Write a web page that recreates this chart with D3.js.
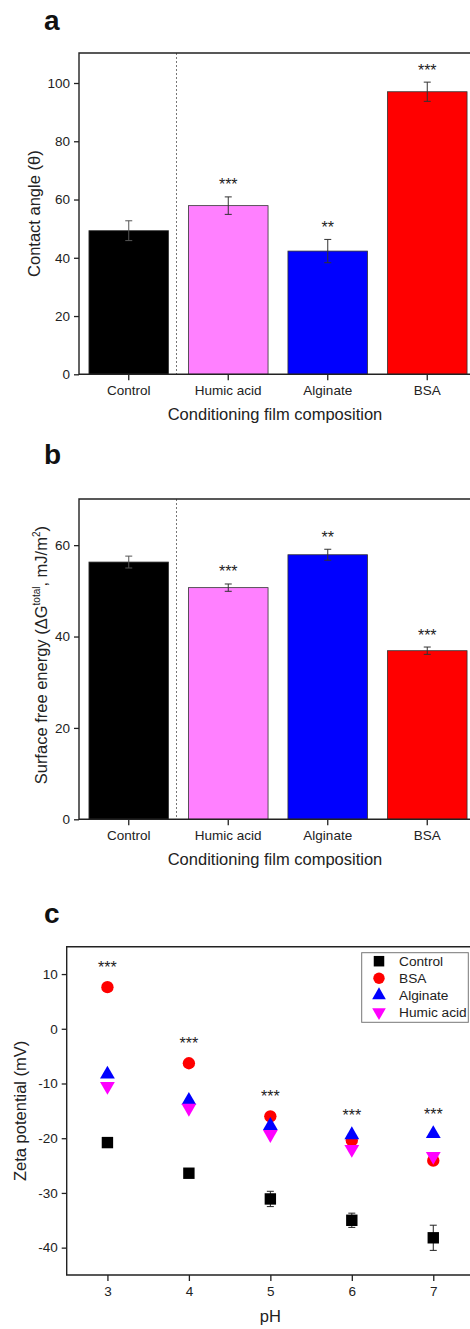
<!DOCTYPE html>
<html>
<head>
<meta charset="utf-8">
<script src="https://cdn.jsdelivr.net/npm/d3@7"></script>
<style>
  body { margin: 0; background: #fff; }
  svg { display: block; font-family: Arial, "Liberation Sans", sans-serif; }
  .tick text { fill: #222; }
</style>
</head>
<body>
<svg id="chart" width="470" height="1329"></svg>
<script>
// panel a / b data
const categories = ["Control", "Humic acid", "Alginate", "BSA"];
const contactAngle = [49.3, 57.9, 42.3, 97.0];
const contactAngleErr = [3.4, 3.0, 4.0, 3.3];
const contactAngleSig = ["", "***", "**", "***"];
const contactAngleTicks = [0, 20, 40, 60, 80, 100];

const surfaceEnergy = [56.3, 50.7, 57.9, 36.9];
const surfaceEnergyErr = [1.3, 0.8, 1.2, 0.8];
const surfaceEnergySig = ["", "***", "**", "***"];
const surfaceEnergyTicks = [0, 20, 40, 60];

// panel c data
const pH = [3, 4, 5, 6, 7];
const zetaControl = [-20.8, -26.4, -31.1, -35.0, -38.2];
const zetaControlErr = [0.5, 0.5, 1.4, 1.3, 2.3];
const zetaBSA = [7.6, -6.3, -16.0, -20.4, -24.1];
const zetaAlginate = [-8.3, -13.1, -17.7, -19.4, -19.2];
const zetaHumic = [-10.5, -14.5, -19.3, -22.0, -23.3];
const zetaSig = ["***", "***", "***", "***", "***"];
const zetaTicks = [-40, -30, -20, -10, 0, 10];

const barColors = ["#000000", "#ff80ff", "#0000ff", "#ff0000"];
const frameColor = "#222";

const svg = d3.select("#chart");

function panelLetter(txt, y) {
    svg.append("text")
        .attr("x", 44).attr("y", y)
        .attr("font-size", 28).attr("font-weight", "bold")
        .attr("fill", "#111")
        .text(txt);
}

function styleAxis(g) {
    g.select(".domain").remove();
    g.selectAll(".tick line").attr("stroke", frameColor).attr("stroke-width", 1.3);
    g.selectAll(".tick text").attr("font-size", 13.5);
}

function frame(left, top, right, bottom) {
    svg.append("path")
        .attr("d", `M${right},${top}H${left}V${bottom}H${right}`)
        .attr("fill", "none")
        .attr("stroke", frameColor)
        .attr("stroke-width", 1.4);
}

function stars(g, x, y, txt) {
    g.append("text")
        .attr("x", x).attr("y", y)
        .attr("text-anchor", "middle")
        .attr("font-size", 16).attr("fill", "#222")
        .text(txt);
}

function barPanel(opts) {
    const { left, top, right, bottom, values, errs, sig, yMax, ticks } = opts;

    const x = d3.scaleBand().domain(categories).range([left, right + 6])
        .paddingInner(0.2).paddingOuter(0.1);
    const y = d3.scaleLinear().domain([0, yMax]).range([bottom, top]);

    const g = svg.append("g");

    // dashed separator between control and treatments
    const sepX = x("Control") + x.bandwidth() + (x.step() - x.bandwidth()) / 2 - 2;
    g.append("line")
        .attr("x1", sepX).attr("x2", sepX)
        .attr("y1", top).attr("y2", bottom)
        .attr("stroke", "#777").attr("stroke-width", 1)
        .attr("stroke-dasharray", "2,2");

    g.selectAll("rect.bar")
        .data(categories)
        .join("rect")
        .attr("class", "bar")
        .attr("x", d => x(d))
        .attr("width", x.bandwidth())
        .attr("y", (d, i) => y(values[i]))
        .attr("height", (d, i) => bottom - y(values[i]))
        .attr("fill", (d, i) => barColors[i])
        .attr("stroke", "#333")
        .attr("stroke-width", 0.8);

    // error bars
    categories.forEach((c, i) => {
        const cx = x(c) + x.bandwidth() / 2;
        const y1 = y(values[i] + errs[i]);
        const y2 = y(values[i] - errs[i]);
        const stroke = i === 0 ? "#555" : "#333";
        g.append("line").attr("x1", cx).attr("x2", cx).attr("y1", y1).attr("y2", y2)
            .attr("stroke", stroke).attr("stroke-width", 1);
        [y1, y2].forEach(yy => {
            g.append("line").attr("x1", cx - 3.5).attr("x2", cx + 3.5).attr("y1", yy).attr("y2", yy)
                .attr("stroke", stroke).attr("stroke-width", 1);
        });
        if (sig[i]) stars(g, cx, y1 - 6.5, sig[i]);
    });

    svg.append("g")
        .attr("transform", `translate(${left},0)`)
        .call(d3.axisLeft(y).tickValues(ticks).tickSize(5).tickPadding(4))
        .call(styleAxis);

    svg.append("g")
        .attr("transform", `translate(0,${bottom})`)
        .call(d3.axisBottom(x).tickSize(6).tickPadding(5))
        .call(styleAxis);

    frame(left, top, right + 10, bottom);

    svg.append("text")
        .attr("x", (left + right) / 2).attr("y", bottom + 46)
        .attr("text-anchor", "middle")
        .attr("font-size", 16.5).attr("fill", "#222")
        .text("Conditioning film composition");

    return { x, y };
}

// ---- panel a
panelLetter("a", 29.5);
barPanel({
    left: 79, top: 53, right: 471, bottom: 374.3,
    values: contactAngle, errs: contactAngleErr, sig: contactAngleSig,
    yMax: 110.3, ticks: contactAngleTicks
});
svg.append("text")
    .attr("transform", `translate(40,${(53 + 374.3) / 2}) rotate(-90)`)
    .attr("text-anchor", "middle")
    .attr("font-size", 16.5).attr("fill", "#222")
    .text("Contact angle (θ)");

// ---- panel b
panelLetter("b", 464);
barPanel({
    left: 79, top: 499, right: 471, bottom: 819.3,
    values: surfaceEnergy, errs: surfaceEnergyErr, sig: surfaceEnergySig,
    yMax: 70.1, ticks: surfaceEnergyTicks
});
const ylabB = svg.append("text")
    .attr("transform", `translate(47,${(499 + 819.3) / 2 - 4}) rotate(-90)`)
    .attr("text-anchor", "middle")
    .attr("font-size", 16.5).attr("fill", "#222");
ylabB.append("tspan").text("Surface free energy (ΔG");
ylabB.append("tspan").attr("font-size", 10).attr("dy", -7).text("total");
ylabB.append("tspan").attr("dy", 7).text(", mJ/m");
ylabB.append("tspan").attr("font-size", 10).attr("dy", -7).text("2");
ylabB.append("tspan").attr("dy", 7).text(")");

// ---- panel c
panelLetter("c", 923);
(function () {
    const left = 66.7, top = 946.7, right = 474, bottom = 1275;
    const x = d3.scaleLinear().domain([2.5, 7.5]).range([left, right]);
    const y = d3.scaleLinear().domain([-45, 15]).range([bottom, top]);
    const g = svg.append("g");

    const series = [
        { name: "Control", values: zetaControl, color: "#000", symbol: d3.symbolSquare, size: 130, rot: 0 },
        { name: "BSA", values: zetaBSA, color: "#ff0000", symbol: d3.symbolCircle, size: 120, rot: 0 },
        { name: "Alginate", values: zetaAlginate, color: "#0000ff", symbol: d3.symbolTriangle, size: 95, rot: 0 },
        { name: "Humic acid", values: zetaHumic, color: "#ff00ff", symbol: d3.symbolTriangle, size: 95, rot: 180 }
    ];

    // control error bars
    pH.forEach((p, i) => {
        const cx = x(p);
        const y1 = y(zetaControl[i] + zetaControlErr[i]);
        const y2 = y(zetaControl[i] - zetaControlErr[i]);
        g.append("line").attr("x1", cx).attr("x2", cx).attr("y1", y1).attr("y2", y2)
            .attr("stroke", "#222").attr("stroke-width", 1);
        [y1, y2].forEach(yy => {
            g.append("line").attr("x1", cx - 3.5).attr("x2", cx + 3.5).attr("y1", yy).attr("y2", yy)
                .attr("stroke", "#222").attr("stroke-width", 1);
        });
    });

    series.forEach(s => {
        g.selectAll(null)
            .data(s.values)
            .join("path")
            .attr("d", d3.symbol(s.symbol, s.size))
            .attr("transform", (d, i) => `translate(${x(pH[i])},${y(d)}) rotate(${s.rot})`)
            .attr("fill", s.color);
    });

    pH.forEach((p, i) => {
        const hi = d3.max(series, s => s.values[i]);
        stars(g, x(p), y(hi) - 14, zetaSig[i]);
    });

    svg.append("g")
        .attr("transform", `translate(${left},0)`)
        .call(d3.axisLeft(y).tickValues(zetaTicks).tickFormat(d => String(d)).tickSize(5).tickPadding(4))
        .call(styleAxis);
    svg.append("g")
        .attr("transform", `translate(0,${bottom})`)
        .call(d3.axisBottom(x).tickValues(pH).tickFormat(d => String(d)).tickSize(6).tickPadding(5))
        .call(styleAxis);
    frame(left, top, right, bottom);

    svg.append("text")
        .attr("x", (left + right) / 2).attr("y", bottom + 47)
        .attr("text-anchor", "middle")
        .attr("font-size", 16.5).attr("fill", "#222")
        .text("pH");
    svg.append("text")
        .attr("transform", `translate(26,${(top + bottom) / 2}) rotate(-90)`)
        .attr("text-anchor", "middle")
        .attr("font-size", 16.5).attr("fill", "#222")
        .text("Zeta potential (mV)");

    // legend
    const lg = svg.append("g").attr("transform", "translate(361.7,952.7)");
    lg.append("rect")
        .attr("width", 106.6).attr("height", 69.6)
        .attr("fill", "#fff").attr("stroke", "#777").attr("stroke-width", 1);
    series.forEach((s, i) => {
        const yy = 8.5 + i * 17;
        lg.append("path")
            .attr("d", d3.symbol(s.symbol, s.size * 0.85))
            .attr("transform", `translate(17.3,${yy}) rotate(${s.rot})`)
            .attr("fill", s.color);
        lg.append("text")
            .attr("x", 37.3).attr("y", yy).attr("dy", "0.35em")
            .attr("font-size", 13.7).attr("fill", "#222")
            .text(s.name);
    });
})();
</script>
</body>
</html>
